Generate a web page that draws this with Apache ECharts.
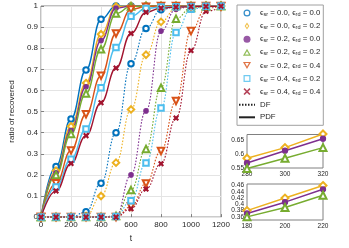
<!DOCTYPE html>
<html><head><meta charset="utf-8">
<script src="https://cdn.jsdelivr.net/npm/echarts@6/dist/echarts.min.js"></script>
<style>html,body{margin:0;padding:0;background:#fff}#c{width:349px;height:248px}</style>
</head><body><div id="c"></div><script>
// ---- data ----
const tValues = [0,100,200,300,400,500,600,700,800,900,1000,1100,1200];
const legendPairs = [['0.0','0.0'],['0.0','0.2'],['0.2','0.0'],['0.2','0.2'],['0.2','0.4'],['0.4','0.2'],['0.4','0.4']];

const pdf_00_00 = [0,0.240,0.465,0.697,0.937,1.000,1.000,1.000,1.000,1.000,1.000,1.000,1.000];
const pdf_00_02 = [0,0.220,0.430,0.635,0.866,0.998,1.000,1.000,1.000,1.000,1.000,1.000,1.000];
const pdf_02_00 = [0,0.210,0.410,0.617,0.836,0.990,1.000,1.000,1.000,1.000,1.000,1.000,1.000];
const pdf_02_02 = [0,0.200,0.394,0.586,0.795,0.964,0.998,1.000,1.000,1.000,1.000,1.000,1.000];
const pdf_02_04 = [0,0.160,0.316,0.487,0.670,0.870,0.984,0.997,1.000,1.000,1.000,1.000,1.000];
const pdf_04_02 = [0,0.143,0.274,0.417,0.613,0.803,0.951,0.988,0.995,0.997,0.998,0.999,1.000];
const pdf_04_04 = [0,0.124,0.254,0.386,0.542,0.706,0.870,0.970,0.990,0.995,0.997,0.998,0.999];

const df_00_00 = [0,0,0,0.025,0.160,0.400,0.727,0.894,0.982,0.997,1.000,1.000,1.000];
const df_00_02 = [0,0,0,0.005,0.100,0.258,0.510,0.769,0.925,0.990,0.998,1.000,1.000];
const df_02_00 = [0,0,0,0,0,0.005,0.200,0.503,0.881,0.985,0.998,1.000,1.000];
const df_02_02 = [0,0,0,0,0,0.005,0.128,0.323,0.613,0.940,0.990,0.998,1.000];
const df_02_04 = [0,0,0,0,0,0,0.050,0.159,0.313,0.550,0.881,0.990,0.998];
const df_04_02 = [0,0,0,0,0,0.003,0.078,0.256,0.517,0.875,0.985,0.995,0.999];
const df_04_04 = [0,0,0,0,0,0,0.040,0.133,0.253,0.469,0.789,0.975,0.995];

const inset1X = [280,300,320];
const inset1Yellow = [0.585,0.623,0.672];
const inset1Purple = [0.568,0.612,0.655];
const inset1Green  = [0.548,0.585,0.623];
const inset2X = [180,200,220];
const inset2Yellow = [0.380,0.420,0.460];
const inset2Purple = [0.371,0.407,0.448];
const inset2Green  = [0.360,0.390,0.429];

// ---- styling ----
const FONT = 'Liberation Sans, Arial, sans-serif';
const TXT = '#262626';
const AX = '#808080';
const colors = ['#0072BD','#EDB120','#7E2F8E','#77AC30','#D95319','#4DBEEE','#A2142F'];
const XPATH = 'path://M0,0.16L0.16,0L0.5,0.34L0.84,0L1,0.16L0.66,0.5L1,0.84L0.84,1L0.5,0.66L0.16,1L0,0.84L0.34,0.5Z';
const syms = [
  {s:'emptyCircle', size:5.5, rot:0},
  {s:'emptyDiamond', size:6.5, rot:0},
  {s:'circle', size:4.5, rot:0},
  {s:'emptyTriangle', size:6.5, rot:0},
  {s:'emptyTriangle', size:6.5, rot:180},
  {s:'emptyRect', size:5.5, rot:0},
  {s:XPATH, size:4.5, rot:0}
];
// hollow ring shapes for the legend keys
const legendSyms = [
  'path://M0,5A5,5 0 1,1 10,5A5,5 0 1,1 0,5ZM1.8,5A3.2,3.2 0 1,0 8.2,5A3.2,3.2 0 1,0 1.8,5Z',
  'path://M5,0L9,6L5,12L1,6ZM5,3.2L3.1,6L5,8.8L6.9,6Z',
  'circle',
  'path://M5,0L10,8.66L0,8.66ZM5,2.9L2.6,7.2L7.4,7.2Z',
  'path://M0,0L10,0L5,8.66ZM2.6,1.45L5,5.75L7.4,1.45Z',
  'path://M0,0L10,0L10,10L0,10ZM1.8,1.8L1.8,8.2L8.2,8.2L8.2,1.8Z',
  XPATH
];
const legendSize = [7,7,5,7,7,6.5,5];
const pdfs = [pdf_00_00,pdf_00_02,pdf_02_00,pdf_02_02,pdf_02_04,pdf_04_02,pdf_04_04];
const dfs = [df_00_00,df_00_02,df_02_00,df_02_02,df_02_04,df_04_02,df_04_04];
const legendNames = legendPairs.map((p,i)=>'L'+i);

function pairs(xs, ys){ return xs.map((x,i)=>[x, ys[i]]); }
function fmt(v){ return String(+(+v).toFixed(3)); }

const series = [];
for (let i=0;i<7;i++){
  series.push({
    type:'line', name:'df'+i, xAxisIndex:0, yAxisIndex:0,
    data: pairs(tValues, dfs[i]), smooth:0.45, smoothMonotone:'x',
    symbol: syms[i].s, symbolSize: syms[i].size, symbolRotate: syms[i].rot,
    showAllSymbol:true, silent:true, z: 2,
    lineStyle:{color:colors[i], width:1.1, type:[1.6,1.6]},
    itemStyle:{color:colors[i], borderColor:colors[i], borderWidth:1.1}
  });
}
for (let i=0;i<7;i++){
  series.push({
    type:'line', name:'pdf'+i, xAxisIndex:0, yAxisIndex:0,
    data: pairs(tValues, pdfs[i]), smooth:0.45, smoothMonotone:'x',
    symbol: syms[i].s, symbolSize: syms[i].size, symbolRotate: syms[i].rot,
    showAllSymbol:true, silent:true, z: 3,
    lineStyle:{color:colors[i], width:1.4},
    itemStyle:{color:colors[i], borderColor:colors[i], borderWidth:1.1}
  });
}
// legend-only entries
for (let i=0;i<7;i++){
  series.push({type:'scatter', name:legendNames[i], data:[], symbol:legendSyms[i], symbolSize:legendSize[i],
    itemStyle:{color:colors[i]}});
}
series.push({type:'line', name:'DF', data:[], symbol:'none', lineStyle:{color:'#222', width:1, type:[1.5,1.5]}, itemStyle:{color:'#222'}});
series.push({type:'line', name:'PDF', data:[], symbol:'none', lineStyle:{color:'#222', width:1.4}, itemStyle:{color:'#222'}});

// insets
const insetSets = [
  [1, inset1X, [inset1Yellow, inset1Purple, inset1Green]],
  [2, inset2X, [inset2Yellow, inset2Purple, inset2Green]]
];
const insetIdx = [1,2,3];
insetSets.forEach(([g, xs, ys])=>{
  ys.forEach((arr,k)=>{
    const ci = insetIdx[k];
    series.push({type:'line', xAxisIndex:g, yAxisIndex:g, data:pairs(xs, arr), clip:false,
      symbol:syms[ci].s, symbolSize:syms[ci].size+0.5, showAllSymbol:true, silent:true,
      lineStyle:{color:colors[ci], width:1.5},
      itemStyle:{color:colors[ci], borderColor:colors[ci], borderWidth:1.3}});
  });
});

const axisCommon = {
  axisLine:{show:false},
  axisTick:{show:true, inside:true, length:3, lineStyle:{color:AX}},
  axisLabel:{color:TXT, fontSize:8, fontFamily:FONT, formatter:fmt},
  splitLine:{show:true, lineStyle:{color:'#e4e4e4', width:1}}
};
const insetAxis = {
  axisLine:{show:false},
  axisTick:{show:false},
  axisLabel:{color:TXT, fontSize:6.5, fontFamily:FONT, margin:3, formatter:fmt},
  splitLine:{show:false}
};

const hiddenMarker = {color:'rgba(0,0,0,0)', borderColor:'rgba(0,0,0,0)', borderWidth:0};

const option = {
  animation:false,
  backgroundColor:'#fff',
  grid:[
    {left:32, top:6, width:189, height:213, show:true, borderColor:AX, borderWidth:1, backgroundColor:'transparent'},
    {left:247, top:134.5, width:76, height:33.5, show:true, borderColor:AX, borderWidth:1, backgroundColor:'transparent'},
    {left:247, top:184, width:76, height:36, show:true, borderColor:AX, borderWidth:1, backgroundColor:'transparent'}
  ],
  xAxis:[
    Object.assign({}, axisCommon, {type:'value', gridIndex:0, min:0, max:1200, interval:200,
      axisLabel:Object.assign({}, axisCommon.axisLabel, {margin:4}),
      name:'t', nameLocation:'middle', nameGap:14, nameTextStyle:{color:TXT, fontSize:8.5, fontFamily:FONT}}),
    Object.assign({}, insetAxis, {type:'value', gridIndex:1, min:280, max:320, interval:20}),
    Object.assign({}, insetAxis, {type:'value', gridIndex:2, min:180, max:220, interval:20})
  ],
  yAxis:[
    Object.assign({}, axisCommon, {type:'value', gridIndex:0, min:0, max:1, interval:0.1,
      axisLabel:Object.assign({}, axisCommon.axisLabel, {margin:3}),
      name:'ratio of recovered', nameLocation:'middle', nameGap:17, nameTextStyle:{color:TXT, fontSize:8, fontFamily:FONT}}),
    Object.assign({}, insetAxis, {type:'value', gridIndex:1, min:0.55, max:0.67, interval:0.05,
      axisLabel:Object.assign({}, insetAxis.axisLabel, {showMaxLabel:false})}),
    Object.assign({}, insetAxis, {type:'value', gridIndex:2, min:0.35, max:0.465, interval:0.01,
      axisLabel:Object.assign({}, insetAxis.axisLabel, {showMaxLabel:false,
        formatter:(v)=>{const k=Math.round(v*100); return (k%2===0 && k>=36 && k<=46) ? fmt(v) : '';}})})
  ],
  legend:{
    show:true, orient:'vertical', left:237, top:5, selectedMode:false,
    data:legendNames.concat([{name:'DF', itemStyle:hiddenMarker}, {name:'PDF', itemStyle:hiddenMarker}]),
    itemWidth:16, itemHeight:7, itemGap:4.6,
    padding:[4,3,4,1],
    backgroundColor:'#fff', borderColor:'#a0a0a0', borderWidth:1, borderRadius:0,
    formatter:(name)=>{
      const i = legendNames.indexOf(name);
      if (i<0) return '{n|'+name+'}';
      const p = legendPairs[i];
      return '{n|\u03f5}{s|sr}{n| = '+p[0]+', \u03f5}{s|rd}{n| = '+p[1]+'}';
    },
    textStyle:{color:TXT, fontFamily:FONT, fontSize:7.8,
      rich:{
        n:{fontSize:7.8, fontFamily:FONT, color:TXT, lineHeight:9, verticalAlign:'middle'},
        s:{fontSize:5.6, fontFamily:FONT, color:TXT, lineHeight:9, verticalAlign:'bottom'}
      }}
  },
  series: series
};
const chart = echarts.init(document.getElementById('c'), null, {renderer:'canvas'});
chart.setOption(option);
</script></body></html>
